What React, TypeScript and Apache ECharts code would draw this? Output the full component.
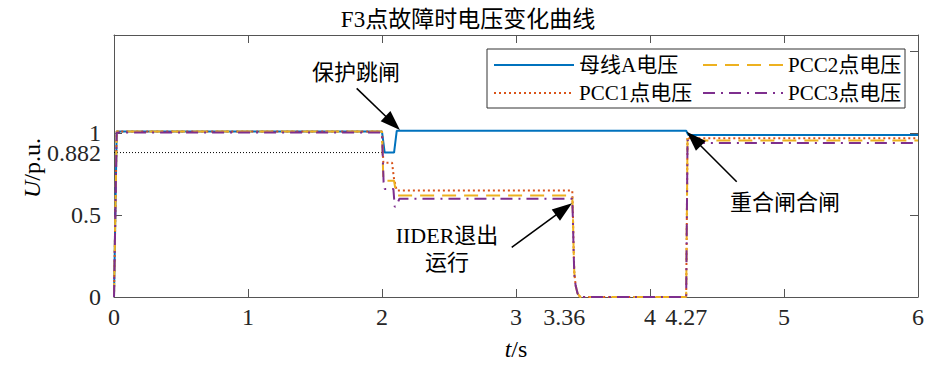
import React, { useEffect, useRef } from "react";
import * as echarts from "echarts";

const FONT = "'Liberation Serif', 'Noto Sans CJK SC', serif";

const titleText = "F3点故障时电压变化曲线";
const seriesNames = ["母线A电压", "PCC1点电压", "PCC2点电压", "PCC3点电压"];
const seriesColors = ["#0072BD", "#D95319", "#EDB120", "#7E2F8E"];

const busA_t = [0, 0.02, 2.0, 2.02, 2.09, 2.11, 4.27, 4.285, 6];
const busA_v = [0, 1.01, 1.01, 0.882, 0.882, 1.015, 1.015, 0.99, 0.99];

const pcc1_t = [0, 0.02, 2.0, 2.01, 2.075, 2.09, 2.11, 3.42, 3.425, 3.43, 3.435, 3.445, 3.46, 3.48, 4.27, 4.28, 4.29, 6];
const pcc1_v = [0, 1.01, 1.01, 0.82, 0.82, 0.72, 0.65, 0.65, 0.5, 0.3, 0.15, 0.07, 0.02, 0, 0, 0.98, 0.97, 0.97];

const pcc2_t = [0, 0.02, 2.0, 2.01, 2.09, 2.1, 2.12, 3.42, 3.425, 3.43, 3.435, 3.445, 3.46, 3.48, 4.27, 4.28, 4.29, 6];
const pcc2_v = [0, 1.01, 1.01, 0.71, 0.71, 0.66, 0.62, 0.62, 0.48, 0.29, 0.15, 0.07, 0.02, 0, 0, 0.97, 0.955, 0.955];

const pcc3_t = [0, 0.02, 2.0, 2.012, 2.02, 2.085, 2.095, 2.11, 2.13, 3.42, 3.425, 3.43, 3.435, 3.445, 3.46, 3.48, 4.27, 4.28, 4.29, 6];
const pcc3_v = [0, 1.005, 1.005, 0.7, 0.66, 0.66, 0.55, 0.56, 0.6, 0.6, 0.46, 0.28, 0.14, 0.07, 0.02, 0, 0, 0.96, 0.94, 0.94];

const ref_t = [0, 2.02];
const ref_v = [0.882, 0.882];

const xLabelValues = [0, 1, 2, 3, 3.36, 4, 4.27, 5, 6];
const xTickValues = [0, 1, 2, 3, 4, 5, 6];
const yLabelValuesA = [0, 0.5, 0.882];
const yLabelValuesB = [1];
const yTickLeftA = [0, 0.5];
const yTickLeftB = [1];
const yTickRight = [0, 0.5, 1, 1.5];

const zip = (t: number[], v: number[]) => t.map((x, i) => [x, v[i]]);

function arrow(x1: number, y1: number, x2: number, y2: number, head = 20, half = 7) {
  const dx = x2 - x1, dy = y2 - y1;
  const L = Math.hypot(dx, dy);
  const ux = dx / L, uy = dy / L;
  const bx = x2 - ux * head, by = y2 - uy * head;
  const px = -uy, py = ux;
  return [
    { type: "line", z: 10, shape: { x1, y1, x2: bx + ux * 2, y2: by + uy * 2 }, style: { stroke: "#000", lineWidth: 1.6 } },
    {
      type: "polygon", z: 10,
      shape: { points: [[x2, y2], [bx + px * half, by + py * half], [bx - px * half, by - py * half]] },
      style: { fill: "#000" },
    },
  ];
}

export default function App() {
  const ref = useRef<HTMLDivElement>(null);
  useEffect(() => {
    document.body.style.margin = "0";
    const chart = echarts.init(ref.current!, null, { renderer: "svg" });
    const lineSeries = (name: string, data: number[][], color: string, type: any) => ({
      name, type: "line", data, symbol: "none", xAxisIndex: 0, yAxisIndex: 0,
      lineStyle: { color, width: 2, type }, itemStyle: { color },
    });
    const legendBase = {
      orient: "vertical", top: 51,
      itemWidth: 80, itemHeight: 14, itemGap: 0, padding: 0, z: 6, selectedMode: false,
      itemStyle: { opacity: 0 },
      textStyle: { fontFamily: FONT, fontSize: 21, color: "#000", lineHeight: 28 },
    };
    const yLabel = { hideOverlap: false, margin: 13, fontFamily: FONT, fontSize: 24, lineHeight: 17, color: "#262626" };
    const axisLine = { show: true, onZero: false, lineStyle: { color: "#555", width: 1 } };
    const tick = (vals: number[]) => ({ show: true, inside: true, length: 8, customValues: vals, lineStyle: { color: "#555" } });
    const option: any = {
      animation: false,
      backgroundColor: "#fff",
      title: {
        text: titleText, left: "center", top: 3,
        textStyle: { fontFamily: FONT, fontSize: 23, fontWeight: "normal", color: "#000" },
      },
      grid: { left: 114, top: 35, width: 804, height: 262, containLabel: false },
      xAxis: [
        {
          type: "value", min: 0, max: 6, position: "bottom",
          axisLine, axisTick: tick(xTickValues),
          axisLabel: { customValues: xLabelValues, hideOverlap: false, margin: 8, fontFamily: FONT, fontSize: 24, color: "#262626" },
          splitLine: { show: false },
        },
        {
          type: "value", min: 0, max: 6, position: "top",
          axisLine, axisTick: tick(xTickValues),
          axisLabel: { show: false },
          splitLine: { show: false },
        },
      ],
      yAxis: [
        {
          type: "value", min: 0, max: 1.6, position: "left",
          axisLine, axisTick: tick(yTickLeftA),
          axisLabel: { ...yLabel, customValues: yLabelValuesA },
          splitLine: { show: false },
        },
        {
          type: "value", min: 0, max: 1.6, position: "right",
          axisLine, axisTick: tick(yTickRight),
          axisLabel: { show: false },
          splitLine: { show: false },
        },
        {
          type: "value", min: 0, max: 1.6, position: "left", offset: 0,
          axisLine: { show: false, onZero: false }, axisTick: tick(yTickLeftB),
          axisLabel: { ...yLabel, customValues: yLabelValuesB },
          splitLine: { show: false },
        },
      ],
      legend: [
        { ...legendBase, data: [seriesNames[0], seriesNames[1]], left: 493 },
        { ...legendBase, data: [seriesNames[2], seriesNames[3]], left: 702 },
      ],
      series: [
        {
          name: "ref", type: "line", data: zip(ref_t, ref_v), symbol: "none",
          lineStyle: { color: "#000", width: 1, type: [1, 2] }, silent: true,
        },
        lineSeries(seriesNames[0], zip(busA_t, busA_v), seriesColors[0], "solid"),
        lineSeries(seriesNames[1], zip(pcc1_t, pcc1_v), seriesColors[1], [2, 3]),
        lineSeries(seriesNames[2], zip(pcc2_t, pcc2_v), seriesColors[2], [14, 8]),
        lineSeries(seriesNames[3], zip(pcc3_t, pcc3_v), seriesColors[3], [12, 6, 2, 6]),
      ],
    };
    chart.setOption(option);

    const px = (t: number, v: number) => chart.convertToPixel({ seriesIndex: 1 }, [t, v]) as number[];
    const tip1 = px(2.134, 1.02);
    const tip2 = px(3.418, 0.572);
    const tip3 = px(4.274, 1.009);
    const textStyle = { fontFamily: FONT, fontSize: 22, fill: "#000", textAlign: "center", textVerticalAlign: "middle" };
    chart.setOption({
      graphic: [
        { type: "rect", z: 3, shape: { x: 487, y: 49, width: 418, height: 59 }, style: { fill: "#fff", stroke: "#333", lineWidth: 1 } },
        ...arrow(356.7, 88.3, tip1[0], tip1[1]),
        ...arrow(511.7, 247.3, tip2[0], tip2[1]),
        ...arrow(736.7, 181.7, tip3[0], tip3[1]),
        { type: "text", z: 10, x: 356, y: 72, style: { ...textStyle, text: "保护跳闸" } },
        { type: "text", z: 10, x: 447, y: 249, style: { ...textStyle, text: "IIDER退出\n运行", lineHeight: 27 } },
        { type: "text", z: 10, x: 785, y: 202, style: { ...textStyle, text: "重合闸合闸" } },
        {
          type: "text", z: 10, x: 32, y: 168, rotation: Math.PI / 2,
          style: { text: "{i|U}/p.u.", fontFamily: FONT, fontSize: 24, fill: "#000", textAlign: "center", textVerticalAlign: "middle",
            rich: { i: { fontStyle: "italic", fontFamily: FONT, fontSize: 24, fill: "#000" } } },
        },
        {
          type: "text", z: 10, x: 516, y: 349,
          style: { text: "{i|t}/s", fontFamily: FONT, fontSize: 24, fill: "#000", textAlign: "center", textVerticalAlign: "middle",
            rich: { i: { fontStyle: "italic", fontFamily: FONT, fontSize: 24, fill: "#000" } } },
        },
      ],
    });
    return () => chart.dispose();
  }, []);
  return <div ref={ref} style={{ width: 936, height: 369 }} />;
}
